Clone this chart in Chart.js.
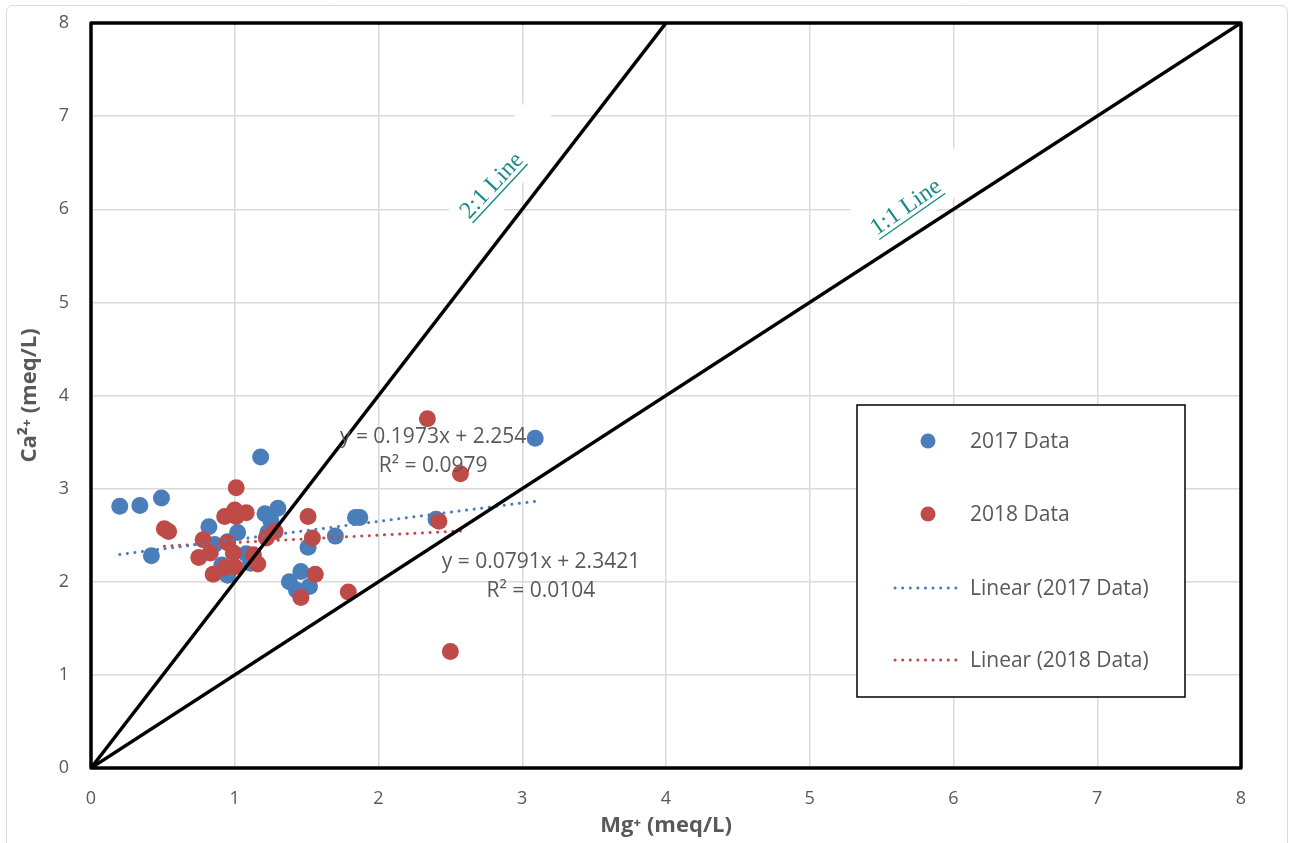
<!DOCTYPE html>
<html>
<head>
<meta charset="utf-8">
<script src="https://cdn.jsdelivr.net/npm/chart.js@4.4.0/dist/chart.umd.min.js"></script>
<style>
  body { margin: 0; background: #fff; }
  #wrap { width: 1292px; height: 843px; position: relative; }
</style>
</head>
<body>
<div id="wrap"><canvas id="mycanvas"></canvas></div>
<script>
// Mg+ (x) and Ca2+ (y) in meq/L
var x2017 = [0.20, 0.34, 0.49, 0.42, 1.18, 3.09, 0.82, 0.86, 1.02, 1.21, 1.30, 1.23, 1.25, 1.84, 1.87, 1.70, 1.51, 1.46, 1.38, 1.43, 1.52, 0.95, 0.91, 0.95, 1.08, 1.11, 2.40];
var y2017 = [2.81, 2.82, 2.90, 2.28, 3.34, 3.54, 2.59, 2.40, 2.53, 2.73, 2.79, 2.53, 2.66, 2.69, 2.69, 2.49, 2.37, 2.11, 2.00, 1.91, 1.95, 2.43, 2.18, 2.07, 2.30, 2.20, 2.67];
var x2018 = [1.01, 0.51, 0.54, 1.00, 0.93, 1.08, 1.01, 0.78, 0.75, 0.83, 0.85, 0.93, 1.00, 0.95, 0.99, 1.13, 1.16, 1.22, 1.28, 1.51, 1.54, 1.56, 1.46, 1.79, 2.34, 2.57, 2.42, 2.50];
var y2018 = [3.01, 2.57, 2.54, 2.77, 2.70, 2.74, 2.70, 2.45, 2.26, 2.31, 2.08, 2.15, 2.16, 2.42, 2.31, 2.29, 2.19, 2.47, 2.54, 2.70, 2.47, 2.08, 1.83, 1.89, 3.75, 3.16, 2.65, 1.25];

// trendline coefficients printed on the chart
var fit2017 = { slope: 0.1973, icpt: 2.254, r2: '0.0979' };
var fit2018 = { slope: 0.0791, icpt: 2.3421, r2: '0.0104' };

var axisTicks = [0, 1, 2, 3, 4, 5, 6, 7, 8];
var seriesNames = ['2017 Data', '2018 Data', 'Linear (2017 Data)', 'Linear (2018 Data)'];

var BLUE = '#4A7EBB', RED = '#BE4B48', GREY = '#595959', TEAL = '#178A8A';
var FONT = '"Open Sans", "Noto Sans", sans-serif';

function pts(xs, ys) {
	var out = [];
	for (var i in xs) out.push({ x: xs[i], y: ys[i] });
	return out;
}
function trend(xs, fit) {
	var lo = Math.min.apply(null, xs), hi = Math.max.apply(null, xs);
	return [{ x: lo, y: fit.slope * lo + fit.icpt }, { x: hi, y: fit.slope * hi + fit.icpt }];
}

// rotated line labels ("2:1 Line", "1:1 Line") with their white boxes
var lineLabels = [
	{ text: '2:1 Line', x: 2.79, y: 6.25, angle: -47, box: { x: 2.82, y: 6.3, w: 170, h: 45, angle: -55 } },
	{ text: '1:1 Line', x: 5.67, y: 6.02, angle: -35, box: { x: 5.68, y: 6.1, w: 135, h: 50, angle: -35 } }
];
var eqLabels = [
	{ lines: ['y = ' + fit2017.slope + 'x + ' + fit2017.icpt, 'R\u00b2 = ' + fit2017.r2], x: 2.38, y: 3.55 },
	{ lines: ['y = ' + fit2018.slope + 'x + ' + fit2018.icpt, 'R\u00b2 = ' + fit2018.r2], x: 3.13, y: 2.21 }
];

var decor = {
	id: 'decor',
	beforeDatasetsDraw: function(chart) {
		var ctx = chart.ctx, sx = chart.scales.x, sy = chart.scales.y;
		lineLabels.forEach(function(l) {
			ctx.save();
			ctx.translate(sx.getPixelForValue(l.box.x), sy.getPixelForValue(l.box.y));
			ctx.rotate(l.box.angle * Math.PI / 180);
			ctx.fillStyle = '#fff';
			ctx.fillRect(-l.box.w / 2, -l.box.h / 2, l.box.w, l.box.h);
			ctx.restore();

			ctx.save();
			ctx.translate(sx.getPixelForValue(l.x), sy.getPixelForValue(l.y));
			ctx.rotate(l.angle * Math.PI / 180);
			ctx.font = '24px "Liberation Serif", serif';
			ctx.fillStyle = TEAL;
			ctx.textAlign = 'center';
			ctx.textBaseline = 'middle';
			ctx.fillText(l.text, 0, 0);
			var w = ctx.measureText(l.text).width;
			ctx.strokeStyle = TEAL;
			ctx.lineWidth = 1.4;
			ctx.beginPath();
			ctx.moveTo(-w / 2, 11);
			ctx.lineTo(w / 2, 11);
			ctx.stroke();
			ctx.restore();
		});
	},
	afterDatasetsDraw: function(chart) {
		var ctx = chart.ctx, sx = chart.scales.x, sy = chart.scales.y, a = chart.chartArea;
		// equations
		ctx.save();
		ctx.font = '21px ' + FONT;
		ctx.fillStyle = GREY;
		ctx.textAlign = 'center';
		ctx.textBaseline = 'middle';
		eqLabels.forEach(function(e) {
			var px = sx.getPixelForValue(e.x), py = sy.getPixelForValue(e.y);
			ctx.fillText(e.lines[0], px, py);
			ctx.fillText(e.lines[1], px, py + 29);
		});
		ctx.restore();

		// plot border
		ctx.save();
		ctx.strokeStyle = '#000';
		ctx.lineWidth = 3.5;
		ctx.lineJoin = 'round';
		ctx.strokeRect(a.left, a.top, a.right - a.left, a.bottom - a.top);
		ctx.restore();

		// legend box
		ctx.save();
		var L = 857, T = 405, R = 1185, B = 697;
		ctx.fillStyle = '#fff';
		ctx.fillRect(L, T, R - L, B - T);
		ctx.strokeStyle = '#000';
		ctx.lineWidth = 1.5;
		ctx.strokeRect(L, T, R - L, B - T);
		var rows = [441, 514, 588, 660];
		var cols = [BLUE, RED, BLUE, RED];
		ctx.font = '21px ' + FONT;
		ctx.textBaseline = 'middle';
		for (var i = 0; i < 4; i++) {
			ctx.fillStyle = cols[i];
			ctx.strokeStyle = cols[i];
			if (i < 2) {
				ctx.beginPath();
				ctx.arc(928, rows[i], 7.5, 0, Math.PI * 2);
				ctx.fill();
			} else {
				ctx.lineWidth = 3;
				ctx.lineCap = 'round';
				ctx.setLineDash([0.1, 7.5]);
				ctx.beginPath();
				ctx.moveTo(895, rows[i]);
				ctx.lineTo(963, rows[i]);
				ctx.stroke();
				ctx.setLineDash([]);
			}
			ctx.fillStyle = GREY;
			ctx.fillText(seriesNames[i], 970, rows[i] + 1);
		}
		ctx.restore();
	},
	afterDraw: function(chart) {
		var ctx = chart.ctx;
		ctx.save();
		ctx.strokeStyle = '#d9d9d9';
		ctx.lineWidth = 1;
		ctx.beginPath();
		ctx.roundRect(6.5, 5.5, 1281, 860, 6);
		ctx.stroke();
		ctx.restore();
	}
};

var chartdata = {
	datasets: [
		{ type: 'line', label: '1:1', data: [{ x: 0, y: 0 }, { x: 8, y: 8 }], borderColor: '#000', borderWidth: 3.5, pointRadius: 0, fill: false },
		{ type: 'line', label: '2:1', data: [{ x: 0, y: 0 }, { x: 4, y: 8 }], borderColor: '#000', borderWidth: 3.5, pointRadius: 0, fill: false },
		{ type: 'line', label: seriesNames[2], data: trend(x2017, fit2017), borderColor: BLUE, borderWidth: 3, borderDash: [0.1, 7.5], borderCapStyle: 'round', pointRadius: 0, fill: false },
		{ type: 'line', label: seriesNames[3], data: trend(x2018, fit2018), borderColor: RED, borderWidth: 3, borderDash: [0.1, 7.5], borderCapStyle: 'round', pointRadius: 0, fill: false },
		{ label: seriesNames[1], data: pts(x2018, y2018), backgroundColor: RED, borderColor: RED, pointRadius: 8.5, borderWidth: 0 },
		{ label: seriesNames[0], data: pts(x2017, y2017), backgroundColor: BLUE, borderColor: BLUE, pointRadius: 8.5, borderWidth: 0 }
	]
};

var ctx = document.getElementById('mycanvas');
var scatter = new Chart(ctx, {
	type: 'scatter',
	data: chartdata,
	plugins: [decor],
	options: {
		responsive: true,
		maintainAspectRatio: false,
		animation: false,
		layout: { padding: { top: 23, right: 51, left: 0, bottom: 0 } },
		plugins: { legend: { display: false }, tooltip: { enabled: false } },
		scales: {
			x: {
				type: 'linear', min: 0, max: 8,
				afterBuildTicks: function(s) { s.ticks = axisTicks.map(function(v) { return { value: v }; }); },
				afterFit: function(s) { s.height = 75; s.paddingLeft = 0; s.paddingRight = 0; },
				grid: { color: '#d9d9d9', lineWidth: 1.5, drawTicks: false },
				border: { display: false },
				ticks: { color: GREY, font: { size: 18, family: FONT }, padding: 20 },
				title: { display: true, text: 'Mg\u207a (meq/L)', color: GREY, font: { size: 22, weight: 'bold', family: FONT }, padding: { top: 0, bottom: 4 } }
			},
			y: {
				type: 'linear', min: 0, max: 8,
				afterBuildTicks: function(s) { s.ticks = axisTicks.map(function(v) { return { value: v }; }); },
				afterFit: function(s) { s.width = 91; s.paddingTop = 0; s.paddingBottom = 0; },
				grid: { color: '#d9d9d9', lineWidth: 1.5, drawTicks: false },
				border: { display: false },
				ticks: { color: GREY, font: { size: 18, family: FONT }, padding: 22 },
				title: { display: true, text: 'Ca\u00b2\u207a (meq/L)', color: GREY, font: { size: 22, weight: 'bold', family: FONT }, padding: { top: 17, bottom: 0 } }
			}
		}
	}
});
</script>
</body>
</html>
